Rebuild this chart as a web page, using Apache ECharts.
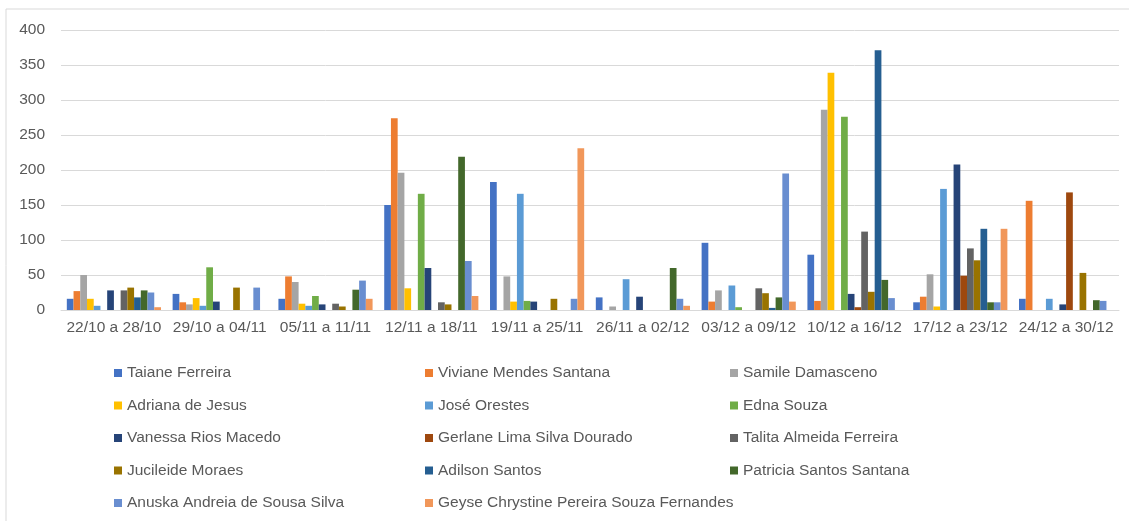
<!DOCTYPE html>
<html>
<head>
<meta charset="utf-8">
<script src="https://cdn.jsdelivr.net/npm/echarts@6/dist/echarts.min.js"></script>
<style>
html, body { margin: 0; padding: 0; background: #fff; }
#chart { width: 1129px; height: 521px; }
</style>
</head>
<body>
<div id="chart"></div>
<script>
var categories = ["22/10 a 28/10", "29/10 a 04/11", "05/11 a 11/11", "12/11 a 18/11", "19/11 a 25/11",
    "26/11 a 02/12", "03/12 a 09/12", "10/12 a 16/12", "17/12 a 23/12", "24/12 a 30/12"];

var names = ["Taiane Ferreira", "Viviane Mendes Santana", "Samile Damasceno", "Adriana de Jesus",
    "José Orestes", "Edna Souza", "Vanessa Rios Macedo", "Gerlane Lima Silva Dourado",
    "Talita Almeida Ferreira", "Jucileide Moraes", "Adilson Santos", "Patricia Santos Santana",
    "Anuska Andreia de Sousa Silva", "Geyse Chrystine Pereira Souza Fernandes"];

var taiane    = [16, 23, 16, 150, 183, 18, 96, 79, 11, 16];
var viviane   = [27, 11, 48, 274, null, null, 12, 13, 19, 156];
var samile    = [50, 8, 40, 196, 48, 5, 28, 286, 51, null];
var adriana   = [16, 17, 9, 31, 12, null, null, 339, 5, null];
var jose      = [6, 6, 6, null, 166, 44, 35, null, 173, 16];
var edna      = [null, 61, 20, 166, 13, null, 4, 276, null, null];
var vanessa   = [28, 12, 8, 60, 12, 19, null, 23, 208, 8];
var gerlane   = [null, null, null, null, null, null, null, 4, 49, 168];
var talita    = [28, null, 9, 11, null, null, 31, 112, 88, null];
var jucileide = [32, 32, 5, 8, 16, null, 24, 26, 71, 53];
var adilson   = [18, null, null, null, null, null, 3, 371, 116, null];
var patricia  = [28, null, 29, 219, null, 60, 18, 43, 11, 14];
var anuska    = [25, 32, 42, 70, 16, 16, 195, 17, 11, 13];
var geyse     = [4, null, 16, 20, 231, 6, 12, null, 116, null];

var values = [taiane, viviane, samile, adriana, jose, edna, vanessa, gerlane,
    talita, jucileide, adilson, patricia, anuska, geyse];

var colors = ["#4472C4", "#ED7D31", "#A5A5A5", "#FFC000", "#5B9BD5", "#70AD47", "#264478",
    "#9E480E", "#636363", "#997300", "#255E91", "#43682B", "#698ED0", "#F1975A"];

var font = "'Liberation Sans', Arial, sans-serif";
var textColor = "#595959";

var series = [];
for (var i = 0; i < names.length; i++) {
    series.push({
        name: names[i],
        type: 'bar',
        data: values[i],
        barGap: '0%',
        barCategoryGap: '11%',
        itemStyle: { color: colors[i] }
    });
}

// legend in three columns, row-major order like the original
function legendCol(idx, left) {
    var d = [];
    for (var i = idx; i < names.length; i += 3) d.push(names[i]);
    return {
        data: d,
        orient: 'vertical',
        left: left,
        top: 360,
        icon: 'rect',
        itemWidth: 8,
        itemHeight: 8,
        itemGap: 16.5,
        selectedMode: false,
        textStyle: { color: textColor, fontSize: 15.5, fontFamily: font, lineHeight: 16 }
    };
}

var chart = echarts.init(document.getElementById('chart'));
chart.setOption({
    animation: false,
    color: colors,
    graphic: [{
        type: 'rect',
        shape: { x: 6, y: 9, width: 1200, height: 600 },
        style: { fill: 'none', stroke: '#d9d9d9', lineWidth: 1 }
    }],
    legend: [legendCol(0, 109), legendCol(1, 420), legendCol(2, 725)],
    grid: { left: 61, right: 10, top: 30, bottom: 211 },
    xAxis: {
        type: 'category',
        data: categories,
        axisTick: { show: false },
        axisLine: { lineStyle: { color: '#d9d9d9' } },
        axisLabel: { interval: 0, color: textColor, fontSize: 15.5, fontFamily: font, margin: 10 }
    },
    yAxis: {
        type: 'value',
        min: 0,
        max: 400,
        interval: 50,
        axisLine: { show: false },
        axisTick: { show: false },
        splitLine: { lineStyle: { color: '#d9d9d9' } },
        axisLabel: { color: textColor, fontSize: 15.5, fontFamily: font, margin: 16 }
    },
    series: series
});
</script>
</body>
</html>
